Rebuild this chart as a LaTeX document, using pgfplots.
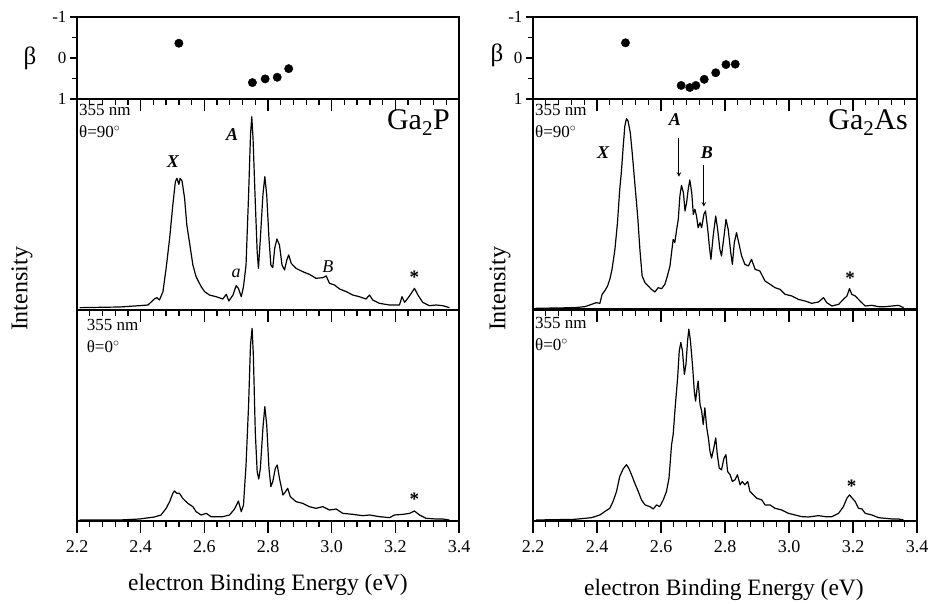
\documentclass[border=0pt]{standalone}
\usepackage{fontspec}
\setmainfont{Liberation Serif}
\usepackage{pgfplots}
\pgfplotsset{compat=1.18}

\pgfplotstableread{
x y
2.208 7
2.334 9
2.396 13
2.423 15
2.443 33
2.451 37
2.459 30
2.470 55
2.480 125
2.491 215
2.501 315
2.509 385
2.514 395
2.520 377
2.524 395
2.530 387
2.538 335
2.545 255
2.553 205
2.564 135
2.574 100
2.590 70
2.601 55
2.616 45
2.637 40
2.658 33
2.669 47
2.677 27
2.690 45
2.700 73
2.707 65
2.716 40
2.723 70
2.731 135
2.739 345
2.745 525
2.749 580
2.753 515
2.760 325
2.766 175
2.770 125
2.776 215
2.784 345
2.790 400
2.796 345
2.803 215
2.809 135
2.815 127
2.821 185
2.828 213
2.836 195
2.844 135
2.852 120
2.859 150
2.865 165
2.873 140
2.888 125
2.909 115
2.930 107
2.951 95
2.972 97
2.983 102
2.993 80
3.009 75
3.025 63
3.046 55
3.066 45
3.087 40
3.108 33
3.119 45
3.129 30
3.150 20
3.182 15
3.213 15
3.221 40
3.229 23
3.239 35
3.250 50
3.260 65
3.271 45
3.286 23
3.307 13
3.328 15
3.349 13
3.370 7
}\gapninety

\pgfplotstableread{
x y
2.208 3
2.334 3
2.396 6
2.443 12
2.464 18
2.480 38
2.491 58
2.501 83
2.506 90
2.514 83
2.522 83
2.532 68
2.548 53
2.564 43
2.574 28
2.590 18
2.606 23
2.621 13
2.658 13
2.679 18
2.695 36
2.707 60
2.716 28
2.723 48
2.731 168
2.739 348
2.745 528
2.750 578
2.754 498
2.760 268
2.766 148
2.771 126
2.776 158
2.784 278
2.790 343
2.796 288
2.803 158
2.809 103
2.815 118
2.823 158
2.829 168
2.836 128
2.847 78
2.855 88
2.862 98
2.870 73
2.888 58
2.909 53
2.930 43
2.951 38
2.972 43
2.993 33
3.014 36
3.035 23
3.066 20
3.098 16
3.119 18
3.150 13
3.182 10
3.197 18
3.224 20
3.245 23
3.260 30
3.276 18
3.297 8
3.328 6
3.349 6
3.370 3
}\gapzero

\pgfplotstableread{
x y
2.210 5
2.330 7
2.362 10
2.383 17
2.398 22
2.409 20
2.416 47
2.424 57
2.433 72
2.440 92
2.447 122
2.456 182
2.464 262
2.471 362
2.476 412
2.482 492
2.487 552
2.492 574
2.497 567
2.504 532
2.510 472
2.518 382
2.527 282
2.534 182
2.541 102
2.550 82
2.560 72
2.570 62
2.581 54
2.591 67
2.602 64
2.612 77
2.620 102
2.628 132
2.633 172
2.638 212
2.643 202
2.649 242
2.654 272
2.659 342
2.664 374
2.670 352
2.675 297
2.680 322
2.685 362
2.690 390
2.696 352
2.701 287
2.706 302
2.711 282
2.716 247
2.722 262
2.727 247
2.734 287
2.739 297
2.746 242
2.751 192
2.756 152
2.763 222
2.771 282
2.777 242
2.784 182
2.789 162
2.797 222
2.803 272
2.810 242
2.818 172
2.823 137
2.829 202
2.836 232
2.844 197
2.852 162
2.862 137
2.873 132
2.883 152
2.894 122
2.909 117
2.925 87
2.941 77
2.956 67
2.972 62
2.988 47
3.009 42
3.029 32
3.050 27
3.071 20
3.092 24
3.108 37
3.118 22
3.134 12
3.155 17
3.170 32
3.181 42
3.189 64
3.196 47
3.207 42
3.222 27
3.238 12
3.259 14
3.280 10
3.301 10
3.322 12
3.342 14
3.358 7
}\gaasninety

\pgfplotstableread{
x y
2.210 3
2.330 5
2.383 10
2.409 18
2.424 28
2.440 38
2.450 58
2.461 88
2.471 133
2.482 156
2.492 168
2.499 158
2.508 138
2.518 113
2.529 88
2.539 63
2.550 48
2.565 43
2.576 36
2.586 48
2.596 43
2.607 63
2.617 88
2.625 128
2.633 228
2.638 258
2.645 348
2.652 428
2.657 508
2.662 533
2.667 508
2.673 438
2.678 468
2.683 538
2.687 573
2.692 538
2.699 458
2.704 388
2.708 358
2.713 398
2.716 418
2.722 348
2.727 328
2.732 288
2.737 338
2.743 278
2.748 248
2.753 208
2.758 188
2.765 218
2.771 248
2.776 198
2.782 158
2.789 153
2.797 188
2.803 198
2.808 148
2.816 138
2.823 118
2.831 123
2.839 138
2.847 108
2.854 118
2.862 108
2.871 118
2.878 88
2.889 78
2.899 68
2.915 63
2.925 48
2.941 48
2.956 38
2.977 33
2.998 23
3.019 18
3.040 13
3.061 12
3.092 16
3.113 13
3.134 13
3.155 23
3.170 43
3.181 68
3.189 78
3.196 70
3.207 58
3.217 38
3.228 36
3.238 23
3.259 18
3.280 10
3.301 8
3.322 6
3.342 6
3.358 3
}\gaaszero

\tikzset{
  curve/.style={black, line width=1.2pt, line join=round},
  lab/.style={font=\fontsize{17}{20}\selectfont, align=left, inner sep=2pt},
  pk/.style={font=\fontsize{18}{19}\selectfont\itshape},
  pkb/.style={font=\fontsize{18}{19}\selectfont\itshape\bfseries},
  star/.style={font=\fontsize{19}{19}\selectfont\bfseries},
}
\pgfplotsset{
  base/.style={scale only axis, anchor=north west, xmin=2.2, xmax=3.4,
    xtick={2.2,2.4,2.6,2.8,3.0,3.2,3.4}, minor x tick num=4,
    tick align=outside, xtick pos=left, ytick pos=left,
    major tick length=12pt, minor tick length=6pt,
    tick style={line width=1.3pt, black},
    axis line style={line width=1.5pt},
    /pgf/number format/assume math mode=true,
    ticklabel style={font=\fontsize{18}{20}\selectfont},
    xticklabel style={yshift=-4pt},
    xticklabels={}},
  betay/.style={scale only axis, anchor=north west, xmin=2.2, xmax=3.4,
    height=82pt, ymin=-1, ymax=1, y dir=reverse, xtick=\empty,
    ytick={-1,0,1}, minor ytick={-0.5,0.5}, yticklabels={-1,0,1},
    tick align=outside, ytick pos=left,
    major tick length=7pt, minor tick length=5pt,
    tick style={line width=1.3pt, black},
    axis line style={line width=1.5pt},
    ticklabel style={font=\fontsize{17}{19}\selectfont}},
  spec/.style={base, height=211pt, ymin=0, ymax=633, ytick=\empty},
}

\begin{document}
\begin{tikzpicture}
\useasboundingbox (0pt,0pt) rectangle (928pt,-604pt);
% ---------- Ga2P ----------
\begin{axis}[betay, at={(77pt,-17pt)}, width=382pt]
\addplot[only marks, mark=*, mark size=4.2pt, black] coordinates {
(2.520,-0.36) (2.751,0.60) (2.791,0.51) (2.829,0.47) (2.865,0.26)};
\end{axis}
\begin{axis}[base, at={(77pt,-17pt)}, width=382pt, height=82pt, ymin=-1, ymax=1, ytick=\empty, axis line style={draw=none}]
\end{axis}
\begin{axis}[spec, at={(77pt,-99pt)}, width=382pt]
\addplot[curve] table {\gapninety};
\node[lab, anchor=north west] at (rel axis cs:0,0.985) {355 nm\\[2pt]θ=90$^{\circ}$};
\node[font=\fontsize{30}{32}\selectfont, anchor=north east] at (rel axis cs:0.985,0.965) {Ga\textsubscript{2}P};
\node[pkb] at (axis cs:2.501,445) {X};
\node[pkb] at (axis cs:2.687,525) {A};
\node[pk] at (axis cs:2.700,110) {a};
\node[pk] at (axis cs:2.988,130) {B};
\node[star] at (axis cs:3.260,97) {*};
\end{axis}
\begin{axis}[spec, at={(77pt,-310pt)}, width=382pt, xticklabels={2.2,2.4,2.6,2.8,3.0,3.2,3.4}]
\addplot[curve] table {\gapzero};
\node[lab, anchor=north west] at (rel axis cs:0.02,0.965) {355 nm\\[2pt]θ=0$^{\circ}$};
\node[star] at (axis cs:3.260,66) {*};
\end{axis}
% ---------- Ga2As ----------
\begin{axis}[betay, at={(533pt,-17pt)}, width=384pt]
\addplot[only marks, mark=*, mark size=4.2pt, black] coordinates {
(2.489,-0.37) (2.663,0.67) (2.690,0.72) (2.709,0.67) (2.735,0.52) (2.771,0.36) (2.803,0.16) (2.832,0.15)};
\end{axis}
\begin{axis}[base, at={(533pt,-17pt)}, width=384pt, height=82pt, ymin=-1, ymax=1, ytick=\empty, axis line style={draw=none}]
\end{axis}
\begin{axis}[spec, at={(533pt,-99pt)}, width=384pt]
\addplot[curve] table {\gaasninety};
\node[lab, anchor=north west] at (rel axis cs:0,0.985) {355 nm\\[2pt]θ=90$^{\circ}$};
\node[font=\fontsize{30}{32}\selectfont, anchor=north east] at (rel axis cs:0.985,0.965) {Ga\textsubscript{2}As};
\node[pkb] at (axis cs:2.419,472) {X};
\node[pkb] at (axis cs:2.643,570) {A};
\node[pkb] at (axis cs:2.743,472) {B};
\draw[->, >=stealth, line width=1pt] (axis cs:2.656,515) -- (axis cs:2.656,400);
\draw[->, >=stealth, line width=1pt] (axis cs:2.734,435) -- (axis cs:2.734,310);
\node[star] at (axis cs:3.191,94) {*};
\end{axis}
\begin{axis}[spec, at={(533pt,-309pt)}, width=384pt, height=212pt, xticklabels={2.2,2.4,2.6,2.8,3.0,3.2,3.4}]
\addplot[curve] table {\gaaszero};
\node[lab, anchor=north west] at (rel axis cs:0,0.97) {355 nm\\[2pt]θ=0$^{\circ}$};
\node[star] at (axis cs:3.196,105) {*};
\end{axis}
% ---------- labels ----------
\node[font=\fontsize{25}{26}\selectfont] at (30pt,-58pt) {β};
\node[font=\fontsize{25}{26}\selectfont] at (497pt,-55pt) {β};
\node[font=\fontsize{24}{26}\selectfont, rotate=90] at (22pt,-289pt) {Intensity};
\node[font=\fontsize{24}{26}\selectfont, rotate=90] at (500pt,-289pt) {Intensity};
\node[font=\fontsize{23.5}{25}\selectfont] at (268pt,-585pt) {electron Binding Energy (eV)};
\node[font=\fontsize{23.5}{25}\selectfont] at (724pt,-590pt) {electron Binding Energy (eV)};
\end{tikzpicture}
\end{document}
